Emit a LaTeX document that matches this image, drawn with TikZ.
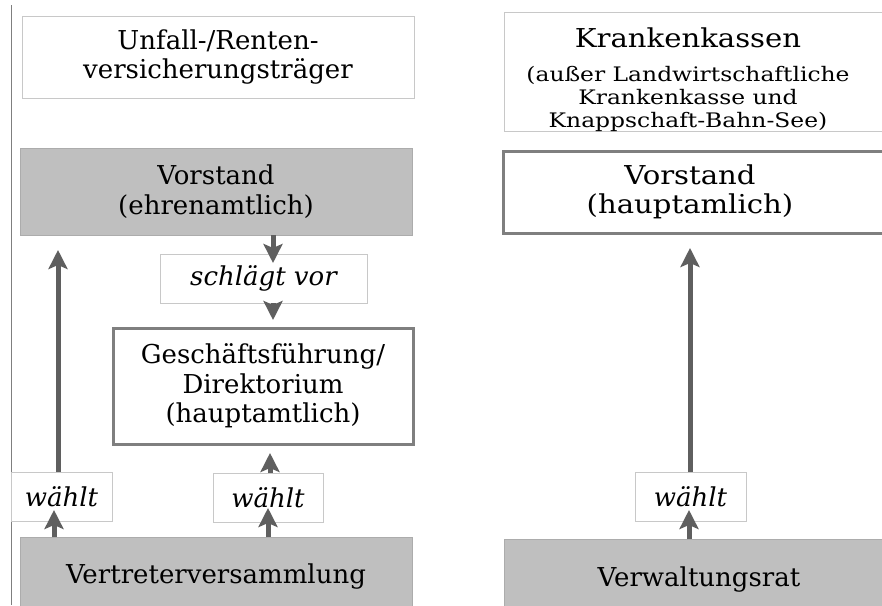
\documentclass[tikz,border=0pt]{standalone}
\usepackage{fontspec}
\setmainfont{DejaVu Serif}
\newfontfamily\widefont{DejaVu Serif}[FakeStretch=1.12]
\newfontfamily\subfont{DejaVu Serif}[FakeStretch=1.17]
\usetikzlibrary{arrows.meta}
\definecolor{boxgray}{HTML}{BFBFBF}
\definecolor{arrowgray}{HTML}{5F5F5F}
\definecolor{framegray}{HTML}{7F7F7F}
\definecolor{thingray}{HTML}{C8C8C8}
\begin{document}
\begin{tikzpicture}[x=1pt,y=-1pt,
  every node/.style={inner sep=0pt, outer sep=0pt},
  thinbox/.style={draw=thingray, line width=0.8pt, fill=white, align=center},
  thickbox/.style={draw=framegray, line width=3pt, fill=white, align=center},
  graybox/.style={fill=boxgray, draw=boxgray!90!black, line width=0.5pt, align=center},
  main/.style={font=\fontsize{26}{29.5}\selectfont},
  wide/.style={font=\widefont\fontsize{26}{29.5}\selectfont},
  verb/.style={font=\fontsize{26}{29.5}\selectfont\itshape},
  sub/.style={font=\subfont\fontsize{20}{23}\selectfont},
  arr/.style={draw=arrowgray, line width=5pt, -{Stealth[length=19pt,width=19pt,inset=4pt]}},
  sideline/.style={draw=framegray, line width=1pt}
]
\useasboundingbox (0,0) rectangle (882,605);
\clip (0,0) rectangle (882,605);
\fill[white] (0,0) rectangle (882,605);

% left column
\draw[sideline] (11,5) -- (11,605);
\node[thinbox, main, minimum width=392pt, minimum height=82pt] (uv) at (218,57) {Unfall-/Renten-\\versicherungsträger};
\node[graybox, main, minimum width=392pt, minimum height=87pt] (vl) at (216,191.5) {Vorstand\\(ehrenamtlich)};
\node[thinbox, verb, minimum width=207pt, minimum height=49pt] (sv) at (263.5,278.5) {schlägt vor};
\node[thickbox, main, minimum width=300pt, minimum height=116pt] (gf) at (263,386) {Geschäftsführung/\\Direktorium\\(hauptamtlich)};
\node[thinbox, verb, minimum width=101pt, minimum height=49pt] (wl) at (61.5,496.5) {wählt};
\node[thinbox, verb, minimum width=110pt, minimum height=49pt] (wm) at (268,497.5) {wählt};
\node[graybox, main, minimum width=392pt, minimum height=80pt] (vv) at (216,577) {Vertreterversammlung};

% right column
\node[thinbox, minimum width=400pt, minimum height=119pt, anchor=north west] (kk) at (504,12) {};
\node[sub, align=center, anchor=north] (kkt) at (688,28) {{\widefont\fontsize{26}{29.5}\selectfont Krankenkassen}\\[11pt](außer Landwirtschaftliche\\Krankenkasse und\\Knappschaft-Bahn-See)};
\node[thickbox, minimum width=400pt, minimum height=82pt, anchor=north west] (vr) at (503,151) {};
\node[wide, align=center] (vrt) at (690,192) {Vorstand\\(hauptamlich)};
\node[thinbox, verb, minimum width=111pt, minimum height=49pt] (wr) at (690.5,496.5) {wählt};
\node[graybox, minimum width=400pt, minimum height=82pt, anchor=north west] (vw) at (504,539) {};
\node[main] (vwt) at (699,580) {Verwaltungsrat};

% arrows
\coordinate (t1) at (58,250);
\coordinate (t2) at (54,510);
\coordinate (t3) at (273,263);
\coordinate (t4) at (273,320);
\coordinate (t5) at (270,453);
\coordinate (t6) at (268,508);
\coordinate (t7) at (690,248);
\coordinate (t8) at (689,510);
\draw[arr] (wl.north -| t1) -- (t1);
\draw[arr] (vv.north -| t2) -- (t2);
\draw[arr] (vl.south -| t3) -- (t3);
\draw[arr] (sv.south -| t4) -- (t4);
\draw[arr] (wm.north -| t5) -- (t5);
\draw[arr] (vv.north -| t6) -- (t6);
\draw[arr] (wr.north -| t7) -- (t7);
\draw[arr] (vw.north -| t8) -- (t8);
\end{tikzpicture}
\end{document}
